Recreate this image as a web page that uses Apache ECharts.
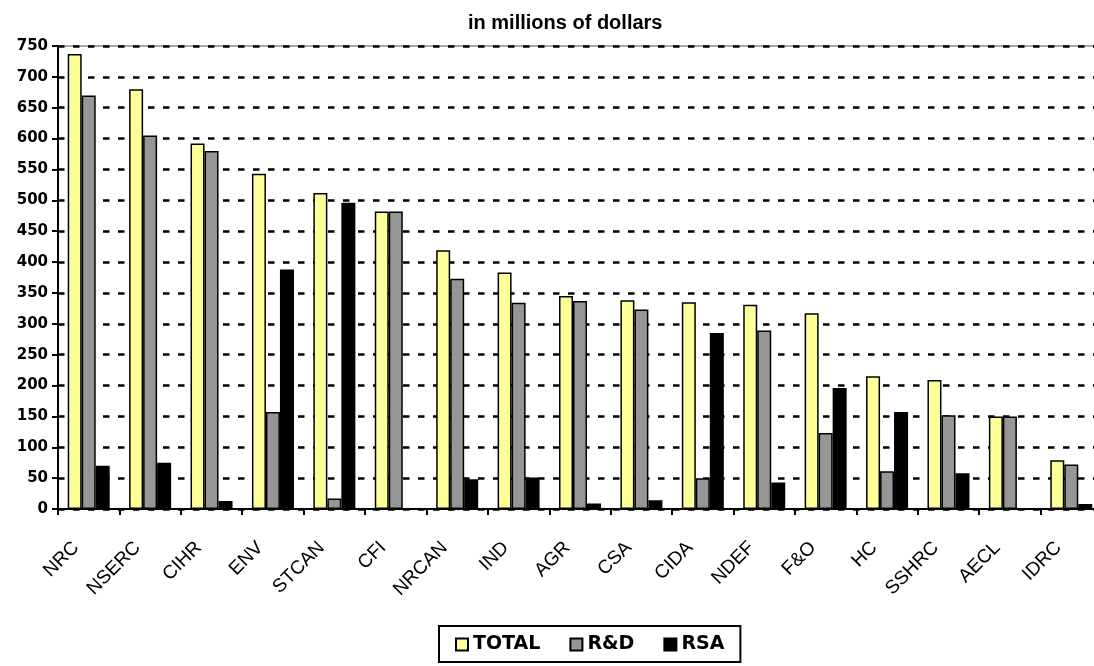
<!DOCTYPE html>
<html>
<head>
<meta charset="utf-8">
<script src="https://cdn.jsdelivr.net/npm/echarts@6/dist/echarts.min.js"></script>
<style>
  html, body { margin: 0; padding: 0; background: #ffffff; }
  #chart { width: 1094px; height: 666px; }
</style>
</head>
<body>
<div id="chart"></div>
<script>
const titleText = 'in millions of dollars';
const categories = ['NRC', 'NSERC', 'CIHR', 'ENV', 'STCAN', 'CFI', 'NRCAN', 'IND', 'AGR', 'CSA', 'CIDA', 'NDEF', 'F&O', 'HC', 'SSHRC', 'AECL', 'IDRC'];
const seriesNames = ['TOTAL', 'R&D', 'RSA'];
const totalValues = [737, 680, 592, 543, 512, 482, 419, 383, 345, 338, 335, 331, 317, 215, 209, 150, 79];
const rdValues = [670, 605, 580, 157, 17, 482, 373, 334, 337, 323, 50, 289, 123, 61, 152, 150, 72];
const rsaValues = [70, 75, 13, 388, 496, 0, 48, 51, 9, 14, 285, 43, 196, 157, 58, 0, 8];
const yMin = 0, yMax = 750, yStep = 50;

const colors = ['#FFFF99', '#969696', '#000000'];
const seriesData = [totalValues, rdValues, rsaValues];

const chart = echarts.init(document.getElementById('chart'), null, { renderer: 'canvas' });
chart.setOption({
  backgroundColor: '#ffffff',
  animation: false,
  title: {
    text: titleText,
    left: 463,
    top: 8,
    textStyle: { fontFamily: 'Liberation Sans, Arial, sans-serif', fontWeight: 'bold', fontSize: 20, color: '#000' }
  },
  legend: {
    data: seriesNames,
    left: 439,
    top: 626,
    orient: 'horizontal',
    icon: 'rect',
    itemWidth: 12,
    itemHeight: 12,
    itemGap: 29,
    padding: [9, 16, 8, 16],
    borderColor: '#000',
    borderWidth: 2,
    textStyle: { fontFamily: 'DejaVu Sans, sans-serif', fontWeight: 'bold', fontSize: 19, color: '#000' }
  },
  grid: {
    left: 58,
    right: -8,
    top: 46,
    bottom: 157,
    show: true,
    borderColor: '#a6a6a6',
    borderWidth: 2,
    backgroundColor: '#ffffff',
    containLabel: false,
    outerBoundsMode: 'none'
  },
  xAxis: {
    type: 'category',
    data: categories,
    boundaryGap: true,
    axisLine: { show: true, lineStyle: { color: '#000', width: 2 } },
    axisTick: { show: true, length: 6, inside: false, alignWithLabel: false, lineStyle: { color: '#000', width: 2 } },
    axisLabel: {
      interval: 0,
      rotate: 45,
      margin: 23,
      padding: [0, 18, 0, 0],
      fontFamily: 'Liberation Sans, Arial, sans-serif',
      fontSize: 19,
      color: '#000'
    },
    splitLine: { show: false }
  },
  yAxis: {
    type: 'value',
    min: yMin,
    max: yMax,
    interval: yStep,
    axisLine: { show: true, lineStyle: { color: '#000', width: 2 } },
    axisTick: { show: true, length: 6, lineStyle: { color: '#000', width: 2 } },
    axisLabel: {
      margin: 10,
      fontFamily: 'DejaVu Sans, sans-serif',
      fontWeight: 'bold',
      fontSize: 15,
      color: '#000'
    },
    splitLine: { show: true, lineStyle: { color: '#000', width: 2.5, type: [6.5, 8.5] } }
  },
  series: seriesNames.map((name, i) => ({
    name: name,
    type: 'bar',
    data: seriesData[i],
    barWidth: 14,
    barGap: '0%',
    itemStyle: { color: colors[i], borderColor: '#000', borderWidth: 1.5 }
  }))
});
</script>
</body>
</html>
